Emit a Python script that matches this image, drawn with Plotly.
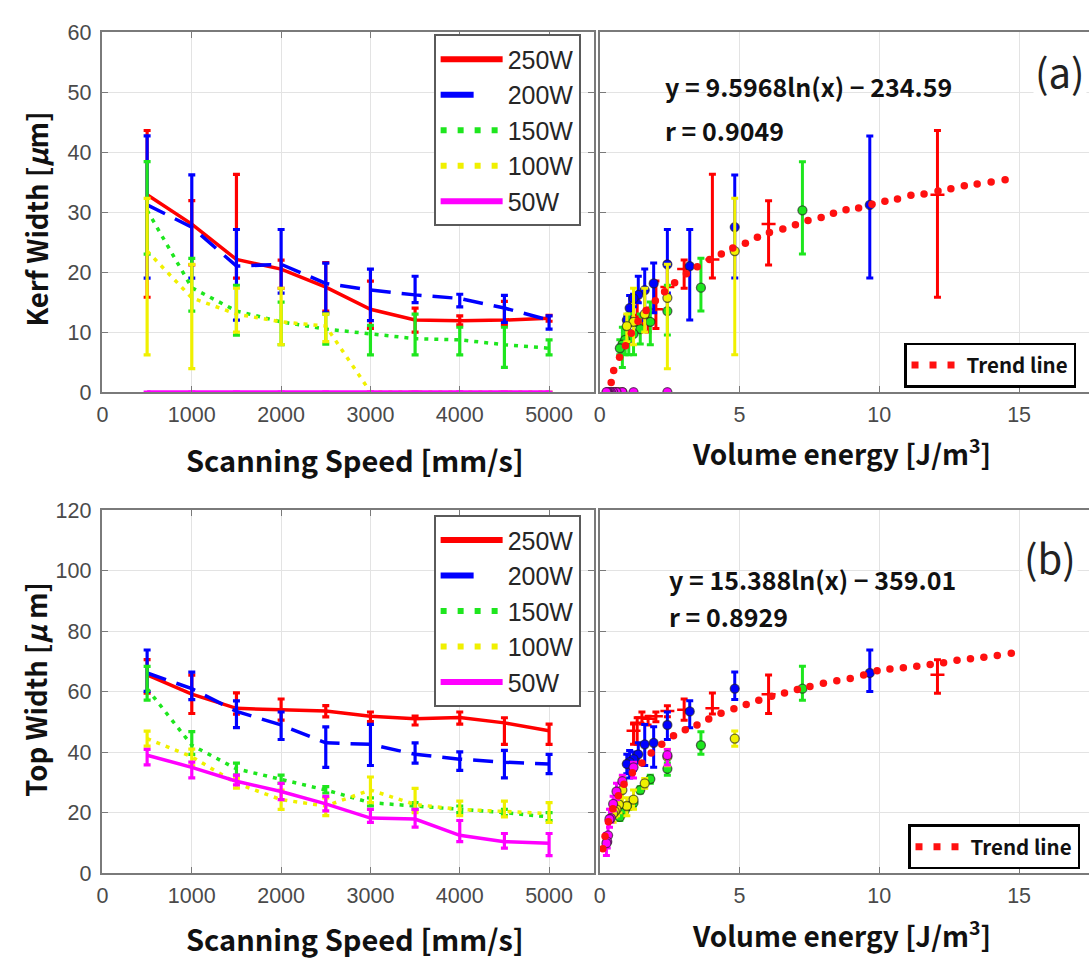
import plotly.graph_objects as go

W, H = 1089, 970

# ---------------- data ----------------
speed = [500, 1000, 1500, 2000, 2500, 3000, 3500, 4000, 4500, 5000]
powers = ["250W", "200W", "150W", "100W", "50W"]

# volume energy [J/m^3] of each (power, speed) point, right panels
energy_250 = [12.08, 6.04, 4.03, 3.02, 2.42, 2.01, 1.73, 1.51, 1.34, 1.21]
energy_200 = [9.66, 4.83, 3.22, 2.42, 1.93, 1.61, 1.38, 1.21, 1.07, 0.97]
energy_150 = [7.25, 3.62, 2.42, 1.81, 1.45, 1.21, 1.04, 0.91, 0.81, 0.72]
energy_100 = [4.83, 2.42, 1.61, 1.21, 0.97, 0.81, 0.69, 0.60, 0.54, 0.48]
energy_50 = [2.42, 1.21, 0.81, 0.60, 0.48, 0.40, 0.35, 0.30, 0.27, 0.24]

# (a) kerf width [um]: mean, upper and lower error limits
kerf_250 = [32.9, 28.0, 22.1, 20.5, 17.5, 13.8, 12.0, 11.9, 12.0, 12.3]
kerf_250_hi = [43.6, 31.9, 36.3, 22.0, 21.6, 18.5, 14.0, 12.7, 15.1, 12.8]
kerf_250_lo = [15.8, 21.2, 19.0, 17.3, 13.5, 10.6, 10.0, 11.2, 11.1, 11.8]
kerf_200 = [31.2, 27.5, 21.0, 21.3, 18.1, 17.0, 16.2, 15.6, 14.0, 12.0]
kerf_200_hi = [42.7, 36.2, 27.1, 27.1, 21.5, 20.5, 19.3, 16.3, 16.1, 12.7]
kerf_200_lo = [19.0, 19.0, 12.0, 16.5, 13.2, 11.9, 14.9, 14.2, 11.6, 10.5]
kerf_150 = [30.3, 17.4, 13.5, 11.7, 10.5, 9.7, 8.9, 8.7, 7.9, 7.3]
kerf_150_hi = [38.4, 22.3, 17.8, 15.0, 13.0, 11.1, 13.0, 10.8, 10.8, 8.7]
kerf_150_lo = [23.0, 13.5, 9.5, 7.9, 8.0, 6.2, 6.2, 6.2, 4.1, 6.2]
kerf_100 = [23.5, 15.7, 13.0, 11.7, 11.0, 0, 0, 0, 0, 0]
kerf_100_hi = [32.3, 21.3, 17.3, 17.3, 13.0, 0, 0, 0, 0, 0]
kerf_100_lo = [6.2, 3.9, 10.0, 7.9, 8.4, 0, 0, 0, 0, 0]
kerf_50 = [0, 0, 0, 0, 0, 0, 0, 0, 0, 0]
kerf_50_hi = [0, 0, 0, 0, 0, 0, 0, 0, 0, 0]
kerf_50_lo = [0, 0, 0, 0, 0, 0, 0, 0, 0, 0]

# (b) top width [um]: mean, upper and lower error limits
top_250 = [65.6, 59.2, 54.5, 54.0, 53.6, 51.9, 51.1, 51.5, 49.7, 47.1]
top_250_hi = [70.6, 65.5, 59.6, 57.6, 55.4, 53.3, 51.9, 53.3, 51.4, 49.3]
top_250_lo = [59.5, 52.8, 52.6, 50.6, 51.7, 50.1, 49.0, 49.3, 42.6, 42.6]
top_200 = [66.2, 61.0, 53.5, 49.0, 43.1, 42.6, 39.3, 37.7, 36.7, 36.1]
top_200_hi = [73.8, 66.5, 57.0, 53.3, 48.4, 49.2, 43.1, 40.1, 40.6, 39.3]
top_200_lo = [60.1, 57.4, 48.1, 44.2, 35.0, 35.6, 36.4, 34.0, 31.5, 32.9]
top_150 = [61.0, 42.3, 34.5, 31.1, 27.5, 23.3, 22.2, 21.1, 20.0, 18.6]
top_150_hi = [68.4, 46.8, 36.4, 32.4, 28.6, 24.9, 23.3, 22.2, 21.1, 20.0]
top_150_lo = [57.2, 39.3, 32.4, 29.7, 26.5, 22.2, 21.1, 20.0, 19.0, 17.4]
top_100 = [44.5, 38.5, 29.7, 24.3, 22.2, 27.5, 22.7, 21.1, 20.4, 19.7]
top_100_hi = [47.0, 41.0, 31.3, 27.5, 24.9, 31.8, 28.0, 23.8, 23.8, 23.3]
top_100_lo = [42.0, 35.5, 28.1, 21.1, 19.0, 23.3, 20.0, 19.0, 18.6, 16.8]
top_50 = [39.0, 35.0, 30.4, 27.0, 22.9, 18.2, 17.9, 12.5, 10.4, 9.9]
top_50_hi = [40.9, 36.7, 32.4, 29.7, 25.4, 21.1, 21.1, 17.4, 13.1, 13.1]
top_50_lo = [35.8, 31.5, 29.2, 24.3, 20.6, 16.8, 15.2, 10.4, 8.3, 5.8]

# trend-line dots
trend_a_x = [0.41, 0.5, 0.71, 0.92, 1.13, 1.37, 1.66, 1.99, 2.32, 2.68, 3.1, 3.49,
             3.93, 4.35, 4.76, 5.21, 5.64, 6.07, 6.55, 7.0, 7.45, 7.92, 8.36, 8.81,
             9.26, 9.74, 10.2, 10.65, 11.13, 11.6, 12.1, 12.56, 13.04, 13.5, 14.0, 14.5]
trend_a_y = [1.6, 3.6, 5.8, 7.7, 9.8, 11.8, 13.6, 15.2, 16.7, 18.2, 19.7, 20.9,
             22.1, 23.0, 24.0, 24.8, 25.8, 26.6, 27.2, 27.9, 28.6, 29.1, 29.8, 30.4,
             30.7, 31.3, 31.8, 32.2, 32.8, 33.0, 33.5, 33.9, 34.4, 34.7, 35.0, 35.4]
trend_b_x = [0.11, 0.19, 0.31, 0.47, 0.67, 0.87, 1.17, 1.51, 1.84, 2.22, 2.64, 3.06,
             3.48, 3.90, 4.34, 4.80, 5.24, 5.69, 6.15, 6.61, 7.07, 7.52, 8.0, 8.48,
             8.96, 9.44, 9.92, 10.38, 10.86, 11.34, 11.82, 12.3, 12.78, 13.26, 13.74,
             14.22, 14.72]
trend_b_y = [8.1, 12.2, 17.0, 21.3, 25.6, 29.4, 33.2, 36.4, 39.7, 42.6, 45.4, 47.4,
             49.0, 51.0, 52.9, 54.4, 55.8, 57.2, 58.5, 59.6, 60.7, 61.7, 62.8, 63.6,
             64.4, 65.5, 66.9, 67.5, 67.9, 68.4, 69.0, 69.6, 70.4, 70.9, 71.4, 72.0,
             72.7]

x_ticks_speed = [0, 1000, 2000, 3000, 4000, 5000]
x_ticks_energy = [0, 5, 10, 15]

# ---------------- styles ----------------
energy = {"250W": energy_250, "200W": energy_200, "150W": energy_150, "100W": energy_100, "50W": energy_50}
kerf = {"250W": kerf_250, "200W": kerf_200, "150W": kerf_150, "100W": kerf_100, "50W": kerf_50}
kerf_hi = {"250W": kerf_250_hi, "200W": kerf_200_hi, "150W": kerf_150_hi, "100W": kerf_100_hi, "50W": kerf_50_hi}
kerf_lo = {"250W": kerf_250_lo, "200W": kerf_200_lo, "150W": kerf_150_lo, "100W": kerf_100_lo, "50W": kerf_50_lo}
top = {"250W": top_250, "200W": top_200, "150W": top_150, "100W": top_100, "50W": top_50}
top_hi = {"250W": top_250_hi, "200W": top_200_hi, "150W": top_150_hi, "100W": top_100_hi, "50W": top_50_hi}
top_lo = {"250W": top_250_lo, "200W": top_200_lo, "150W": top_150_lo, "100W": top_100_lo, "50W": top_50_lo}

color = {"250W": "#ff0000", "200W": "#0000ff", "150W": "#1ee61e", "100W": "#f0f000", "50W": "#ff00ff"}
dash_plot = {"250W": "solid", "200W": "20px,11px", "150W": "4px,6px", "100W": "4px,6px", "50W": "solid"}
dash_leg = {"250W": "solid", "200W": "33px,40px", "150W": "6px,11px", "100W": "6px,11px", "50W": "solid"}

TICK_FONT = dict(family="Liberation Sans, Arial, sans-serif", size=21.5, color="#4a4a4a")
TITLE_FAMILY = "Noto Sans CJK KR, Noto Sans, sans-serif"
GRID = "#e3e3e3"
AXLINE = "#7a7a7a"


def errs(y, hi, lo, c, thick, w):
    return dict(type="data", symmetric=False,
                array=[h - v for h, v in zip(hi, y)],
                arrayminus=[v - l for v, l in zip(y, lo)],
                color=c, thickness=thick, width=w)


fig = go.Figure()

panels = [
    ("x", "y", "x2", "y2", kerf, kerf_hi, kerf_lo, "legend", "legend3", trend_a_x, trend_a_y),
    ("x3", "y3", "x4", "y4", top, top_hi, top_lo, "legend2", "legend4", trend_b_x, trend_b_y),
]

for xa, ya, xb, yb, val, hi, lo, leg, legt, tx, ty in panels:
    # left panel: width vs scanning speed
    for p in powers:
        fig.add_trace(go.Scatter(
            x=speed, y=val[p], mode="lines", xaxis=xa, yaxis=ya, showlegend=False,
            line=dict(color=color[p], width=3.5, dash=dash_plot[p]),
            error_y=errs(val[p], hi[p], lo[p], color[p], 3.2, 3.5), hoverinfo="skip"))
    # legend entries
    for p in powers:
        fig.add_trace(go.Scatter(
            x=[None], y=[None], mode="lines", xaxis=xa, yaxis=ya, name=p, legend=leg,
            line=dict(color=color[p], width=6, dash=dash_leg[p])))
    # right panel: width vs volume energy
    for p in powers:
        if p == "250W":
            mk = dict(symbol="line-ew", size=10, line=dict(color=color[p], width=2.5))
        else:
            mk = dict(symbol="circle", size=9, color=color[p],
                      line=dict(color="rgba(30,30,30,0.65)", width=1.3))
        fig.add_trace(go.Scatter(
            x=energy[p], y=val[p], mode="markers", xaxis=xb, yaxis=yb, showlegend=False,
            marker=mk, error_y=errs(val[p], hi[p], lo[p], color[p], 3, 3.5), hoverinfo="skip"))
    fig.add_trace(go.Scatter(
        x=tx, y=ty, mode="markers", xaxis=xb, yaxis=yb, showlegend=False,
        marker=dict(color="#ff1010", size=7.5), hoverinfo="skip"))
    fig.add_trace(go.Scatter(
        x=[None], y=[None], mode="lines", xaxis=xb, yaxis=yb, legend=legt,
        name="<b>Trend line</b>", line=dict(color="#ff1010", width=7, dash="7px,11px")))


def px(x):
    return x / W


def py(y):
    return 1 - y / H


xl_dom = [px(97), px(591)]
xr_dom = [px(597), 1.0]
yt_dom = [py(390.7), py(21.7)]
yb_dom = [py(884), py(512)]

common = dict(showgrid=True, gridcolor=GRID, gridwidth=1, zeroline=False,
              showline=True, linecolor=AXLINE, linewidth=1.6,
              ticks="inside", ticklen=6, tickcolor=AXLINE, tickfont=TICK_FONT)

fig.update_layout(
    width=W, height=H, margin=dict(l=0, r=0, t=0, b=0),
    paper_bgcolor="white", plot_bgcolor="white",
    xaxis=dict(domain=xl_dom, range=[0, 5500], tickvals=x_ticks_speed, anchor="y",
               mirror="ticks", ticklabelstandoff=2, **common),
    yaxis=dict(domain=yt_dom, range=[0, 60], dtick=10, anchor="x",
               mirror="ticks", ticklabelstandoff=5, **common),
    xaxis2=dict(domain=xr_dom, range=[0, 17.5], tickvals=x_ticks_energy, anchor="y2",
                mirror=True, ticklabelstandoff=2, **common),
    yaxis2=dict(domain=yt_dom, range=[0, 60], dtick=10, anchor="x2",
                showticklabels=False, **common),
    xaxis3=dict(domain=xl_dom, range=[0, 5500], tickvals=x_ticks_speed, anchor="y3",
                mirror="ticks", ticklabelstandoff=2, **common),
    yaxis3=dict(domain=yb_dom, range=[0, 120], dtick=20, anchor="x3",
                mirror="ticks", ticklabelstandoff=5, **common),
    xaxis4=dict(domain=xr_dom, range=[0, 17.5], tickvals=x_ticks_energy, anchor="y4",
                mirror=True, ticklabelstandoff=2, **common),
    yaxis4=dict(domain=yb_dom, range=[0, 120], dtick=20, anchor="x4",
                showticklabels=False, **common),
)

leg_common = dict(xanchor="left", yanchor="top", bgcolor="white", bordercolor="#5a5a5a",
                  borderwidth=2, itemwidth=62, tracegroupgap=0, traceorder="normal",
                  font=dict(family="Liberation Sans, Arial, sans-serif", size=25, color="#262626"))
trend_common = dict(xanchor="left", yanchor="top", bgcolor="white", bordercolor="#000000",
                    borderwidth=2.5, itemwidth=50,
                    font=dict(family=TITLE_FAMILY, size=20.5, color="#111"))
fig.update_layout(
    legend=dict(x=px(430), y=py(24), **leg_common),
    legend2=dict(x=px(430), y=py(517), **leg_common),
    legend3=dict(x=px(903), y=py(340), **trend_common),
    legend4=dict(x=px(907), y=py(834), **trend_common),
)

ann = []


def add_text(text, x, y, size, bold=True, angle=0, xanchor="center", family=None, bg=None, color="#111"):
    ann.append(dict(text=("<b>%s</b>" % text) if bold else text, x=px(x), y=py(y),
                    xref="paper", yref="paper", showarrow=False, xanchor=xanchor,
                    yanchor="middle", textangle=angle,
                    bgcolor=bg if bg else "rgba(0,0,0,0)",
                    font=dict(family=family or TITLE_FAMILY, size=size, color=color)))


add_text("Scanning Speed [mm/s]", 351, 459, 29)
add_text("Scanning Speed [mm/s]", 351, 951, 29)
add_text("Volume energy [J/m<sup>3</sup>]", 840, 452, 28)
add_text("Volume energy [J/m<sup>3</sup>]", 840, 946, 28)
add_text("Kerf Width [<i>μ</i>m]", 30, 213, 27.5, angle=-90)
add_text("Top Width [<i>μ</i> m]", 29, 695, 27.5, angle=-90)
add_text("y = 9.5968ln(x) − 234.59", 661, 77, 25, xanchor="left")
add_text("r = 0.9049", 661, 122, 25, xanchor="left")
add_text("y = 15.388ln(x) − 359.01", 665, 582, 25, xanchor="left")
add_text("r = 0.8929", 665, 620, 25, xanchor="left")
add_text("(a)", 1060, 62, 40, bold=False, bg="white", color="#222")
add_text("(b)", 1050, 560, 40, bold=False, bg="white", color="#222")
fig.update_layout(annotations=ann)

fig.write_html("out.html")
